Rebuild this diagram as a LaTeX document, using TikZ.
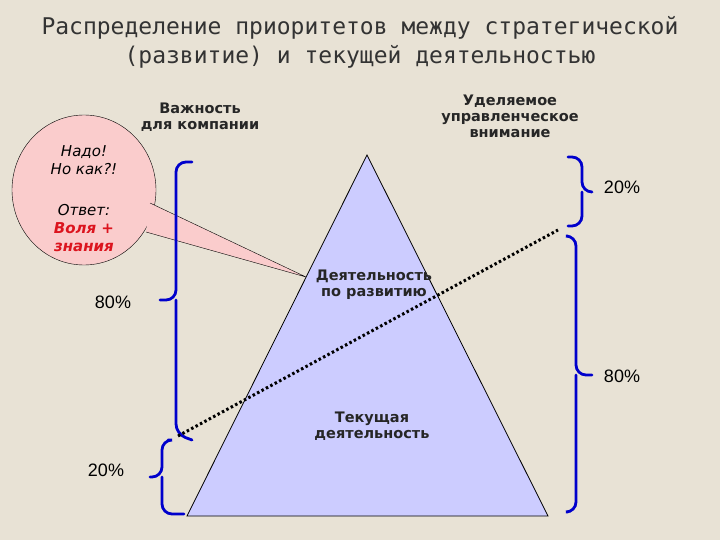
\documentclass[tikz,border=0pt]{standalone}
\usepackage{fontspec}
\setmainfont{DejaVu Sans}
\newfontfamily\mono{DejaVu Sans Mono}
\newfontfamily\arial{Liberation Sans}
\begin{document}
\begin{tikzpicture}[x=1pt,y=-1pt,
  lbl/.style={font=\bfseries\fontsize{14.5}{16}\selectfont,align=center,text=black!85},
  pct/.style={font=\arial\fontsize{18}{19}\selectfont},
  brc/.style={draw=blue!80!black,line width=2.8pt,line cap=round,rounded corners=10pt}]
\fill[fill={rgb,255:red,232;green,226;blue,213}] (0,0) rectangle (720,540);
\useasboundingbox (0,0) rectangle (720,540);
\node[font=\mono\fontsize{23}{29}\selectfont,align=center,text=black!80] (title) at (360,42) {Распределение приоритетов между стратегической\\(развитие) и текущей деятельностью};
% triangle
\coordinate (apex) at (367,155);
\coordinate (bl) at (187,516);
\coordinate (br) at (548,516);
\draw[fill={rgb,255:red,204;green,204;blue,255},line width=0.8pt] (apex) -- (br) -- (bl) -- cycle;
% callout
\coordinate (tip) at (306,277);
\draw[fill={rgb,255:red,250;green,204;blue,204}] (84,190) ellipse [x radius=72,y radius=75];
\fill[fill={rgb,255:red,250;green,204;blue,204}] (150,203) -- (tip) -- (146,232) -- cycle;
\draw (150,203) -- (tip) -- (146,232);
\node[font=\itshape\fontsize{15}{18}\selectfont,align=center] (q) at (84,160) {Надо!\\Но как?!};
\node[font=\itshape\fontsize{15}{18}\selectfont,align=center] (a) at (84,210) {Ответ:};
\node[font=\bfseries\itshape\fontsize{15}{18}\selectfont,align=center,text={rgb,255:red,220;green,20;blue,30}] (a2) at (84,237) {Воля +\\знания};
% labels
\node[lbl] (imp) at (200,117) {Важность\\для компании};
\node[lbl] (att) at (510,116) {Уделяемое\\управленческое\\внимание};
\node[lbl] (dev) at (374,285) {Деятельность\\по развитию};
\node[lbl] (cur) at (372,426) {Текущая\\деятельность};
% braces left
\draw[brc] (192,162) -- (176,162) -- (176,300) -- (160,300);
\draw[brc] (176,300) -- (176,434) -- (192,440);
\draw[brc] (168,440) -- (162,440) -- (162,477) -- (150,477);
\draw[brc] (162,477) -- (162,514) -- (184,514);
% braces right
\draw[brc] (568,157) -- (582,157) -- (582,192) -- (592,192);
\draw[brc] (582,192) -- (582,226) -- (568,226);
\draw[brc] (568,236) -- (576,236) -- (576,375) -- (592,375);
\draw[brc] (576,375) -- (576,512) -- (568,512);
% dotted line
\coordinate (d1) at (178,436);
\coordinate (d2) at (558,230);
\draw[line width=3pt,dash pattern=on 2.5pt off 2.5pt] (d1) -- (d2);
% percents
\node[pct] (p1) at (113,302) {80\%};
\node[pct] (p2) at (106,470) {20\%};
\node[pct] (p3) at (622,187) {20\%};
\node[pct] (p4) at (622,376) {80\%};
\end{tikzpicture}
\end{document}
